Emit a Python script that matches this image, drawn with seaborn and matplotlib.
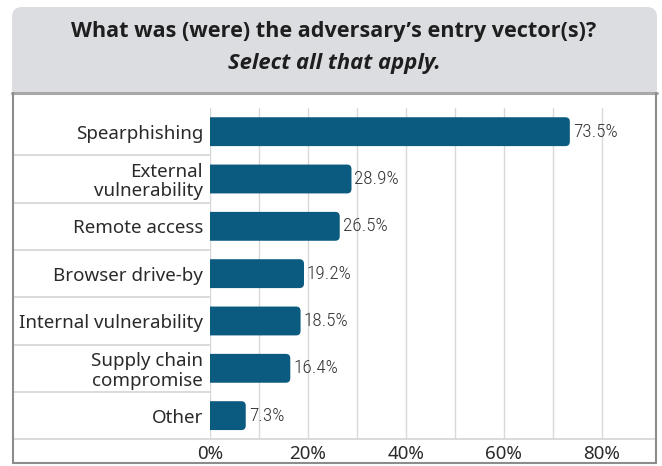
import matplotlib
matplotlib.use("Agg")
import matplotlib.pyplot as plt
import seaborn as sns
import pandas as pd
import numpy as np
from matplotlib.patches import FancyBboxPatch, Rectangle, PathPatch
from matplotlib.path import Path
from matplotlib.lines import Line2D
from matplotlib.transforms import IdentityTransform, blended_transform_factory
from matplotlib import font_manager
from matplotlib.font_manager import FontProperties

categories = ["Spearphishing", "External\nvulnerability", "Remote access",
              "Browser drive-by", "Internal vulnerability",
              "Supply chain\ncompromise", "Other"]
values = [73.5, 28.9, 26.5, 19.2, 18.5, 16.4, 7.3]
tick_values = [0, 20, 40, 60, 80]
tick_labels = ["0%", "20%", "40%", "60%", "80%"]

title = "What was (were) the adversary\u2019s entry vector(s)?"
subtitle = "Select all that apply."

W, H = 662, 466
BAR_COLOR = "#0b5a80"
TEXT = "#2a2a2a"
GRID = "#d8d8d8"


def narrow_font(size):
    """Pick a condensed face for the value labels if one is installed."""
    cands = []
    for f in font_manager.fontManager.ttflist:
        tag = (f.name + " " + str(f.stretch)).lower()
        if ("condensed" in tag or "narrow" in tag or str(f.stretch) in ("condensed", "semi-condensed")) \
                and f.style == "normal" and f.weight in (300, 400, "normal", "light", "regular"):
            cands.append(f)
    cands.sort(key=lambda f: (0 if "roboto" in f.name.lower() else
                              1 if "liberation" in f.name.lower() else 2,
                              0 if f.weight in (300, "light") else 1))
    if cands:
        return FontProperties(fname=cands[0].fname, size=size)
    return FontProperties(family="DejaVu Sans", stretch="condensed", size=size)


sns.set_theme(style="white")
plt.rcParams["font.family"] = ["Noto Sans", "DejaVu Sans"]

fig = plt.figure(figsize=(W / 100, H / 100), dpi=100)
fig.patch.set_facecolor("white")


def fy(y):
    """Top-origin pixel row to display coordinate."""
    return H - y


# header panel with rounded top corners
hx0, hx1, hy0, hy1 = 12, 657, 7, 92
fig.patches.append(FancyBboxPatch((hx0 + 10, fy(hy1) + 10), hx1 - hx0 - 20, hy1 - hy0 - 20,
                                  boxstyle="round,pad=10", transform=IdentityTransform(),
                                  facecolor="#dcdde0", edgecolor="none", zorder=0))
fig.patches.append(Rectangle((hx0, fy(hy1)), hx1 - hx0, 30, transform=IdentityTransform(),
                             facecolor="#dcdde0", edgecolor="none", zorder=0))
# divider under the header and outer frame of the chart body
frame = dict(transform=IdentityTransform(), color="#8c8c8c", zorder=1)
fig.lines.append(Line2D([hx0, hx1], [fy(92.5), fy(92.5)], lw=2.2, color="#a8a8a8",
                        transform=IdentityTransform(), zorder=1))
fig.lines.append(Line2D([13, 13], [fy(93), fy(463)], lw=1.5, **frame))
fig.lines.append(Line2D([656, 656], [fy(93), fy(463)], lw=1.5, **frame))
fig.lines.append(Line2D([13, 656], [fy(463), fy(463)], lw=1.5, **frame))

fig.text(334 / W, 1 - 31 / H, title, ha="center", va="center", fontsize=15.6,
         fontweight="bold", color="#1e1e1e", family=["Open Sans", "DejaVu Sans"])
fig.text(334 / W, 1 - 63 / H, subtitle, ha="center", va="center", fontsize=15.8,
         fontweight="bold", style="italic", color="#1e1e1e",
         family=["Open Sans", "DejaVu Sans"])

# plotting area
ax_l, ax_r, ax_t, ax_b = 210, 656, 108, 439.3
ax = fig.add_axes([ax_l / W, (H - ax_b) / H, (ax_r - ax_l) / W, (ax_b - ax_t) / H])
ax.set_facecolor("none")

df = pd.DataFrame({"category": categories, "value": values})
sns.barplot(data=df, x="value", y="category", orient="h", color=BAR_COLOR,
            width=0.61, ax=ax, saturation=1)

xmax = 91.1
ax.set_xlim(0, xmax)
ax.set_ylim(len(categories) - 0.5, -0.5)

# redraw each bar as one path with rounded right end
px_per_x = (ax_r - ax_l) / xmax
px_per_y = (ax_b - ax_t) / len(categories)
rx = 4.5 / px_per_x
ry = 4.5 / px_per_y
for p in list(ax.patches):
    x0, y0 = p.get_x(), p.get_y()
    x1, y1 = x0 + p.get_width(), y0 + p.get_height()
    p.set_visible(False)
    verts = [(x0, y0), (x1 - rx, y0), (x1, y0), (x1, y0 + ry),
             (x1, y1 - ry), (x1, y1), (x1 - rx, y1), (x0, y1), (x0, y0)]
    codes = [Path.MOVETO, Path.LINETO, Path.CURVE3, Path.CURVE3,
             Path.LINETO, Path.CURVE3, Path.CURVE3, Path.LINETO, Path.CLOSEPOLY]
    ax.add_patch(PathPatch(Path(verts, codes), facecolor=BAR_COLOR,
                           edgecolor="none", zorder=3))

# value labels
vfont = narrow_font(13.8)
for i, v in enumerate(values):
    ax.text(v + 0.6, i, f"{v:.1f}%", ha="left", va="center", fontproperties=vfont,
            color="#333333", zorder=4)

# vertical gridlines every 10 %
ax.set_xticks(tick_values)
ax.set_xticklabels(tick_labels)
ax.set_xticks(np.arange(10, 80, 20), minor=True)
ax.grid(axis="x", which="both", color=GRID, lw=1.0, zorder=0)
ax.grid(axis="y", visible=False)
ax.set_axisbelow(True)
for s in ax.spines.values():
    s.set_visible(False)

ax.tick_params(axis="x", which="both", length=0, pad=4, labelsize=13.5, labelcolor=TEXT)
ax.tick_params(axis="y", length=0, pad=5, labelsize=13.5, labelcolor=TEXT)
for lbl in ax.get_yticklabels():
    lbl.set_linespacing(1.1)
ax.set_xlabel("")
ax.set_ylabel("")

# row separators across the label column and bottom rule
trans = blended_transform_factory(ax.transAxes, ax.transData)
left_frac = (13 - ax_l) / (ax_r - ax_l)
for b in np.arange(0.5, len(categories) - 1, 1.0):
    ax.add_line(Line2D([left_frac, 0], [b, b], transform=trans, color=GRID,
                       lw=1.3, clip_on=False))
ax.add_line(Line2D([left_frac, 1], [len(categories) - 0.5] * 2, transform=trans,
                   color=GRID, lw=1.3, clip_on=False))

fig.savefig("out.png", dpi=100)
